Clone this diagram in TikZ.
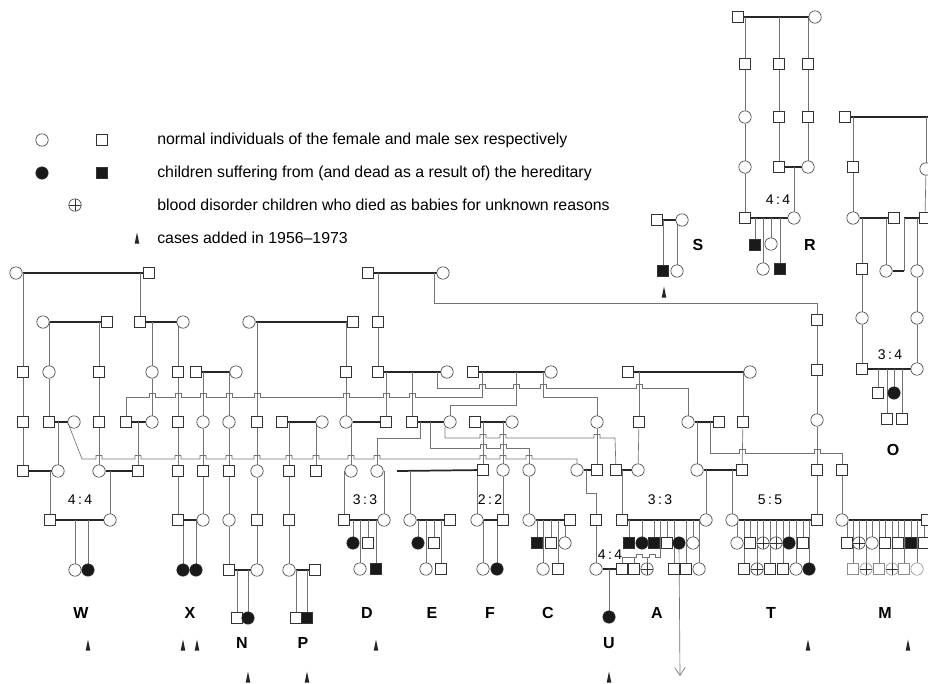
\documentclass[tikz,border=0pt]{standalone}
\usepackage{fontspec}
\setmainfont{Liberation Sans}
\usetikzlibrary{arrows.meta}
\pgfdeclarelayer{bg}
\pgfsetlayers{bg,main}
\tikzset{
 ind/.style={draw=black!80, line width=0.45pt, fill=white, inner sep=0pt},
 fe/.style={ind, circle, minimum size=9.3pt},
 ma/.style={ind, rectangle, minimum size=8.4pt},
 fea/.style={fe, fill=black!90},
 maa/.style={ma, fill=black!90},
 fex/.style={fe, path picture={\draw[black!80,line width=0.4pt] (path picture bounding box.north) -- (path picture bounding box.south) (path picture bounding box.west) -- (path picture bounding box.east);}},
 dl/.style={draw=black!55, line width=0.5pt},
 cpl/.style={draw=black!85, line width=1.3pt},
 lbl/.style={font=\bfseries\fontsize{12}{14}\selectfont, inner sep=0pt},
 rat/.style={font=\fontsize{10.5}{12}\selectfont, inner sep=0pt},
 leg/.style={font=\fontsize{11.9}{14}\selectfont, anchor=west, inner sep=0pt},
}
\newcommand\pF[2]{\node[fe] (n#1y#2) at (#1,#2) {};}
\newcommand\pM[2]{\node[ma] (n#1y#2) at (#1,#2) {};}
\newcommand\pFA[2]{\node[fea] (n#1y#2) at (#1,#2) {};}
\newcommand\pMA[2]{\node[maa] (n#1y#2) at (#1,#2) {};}
\newcommand\pFX[2]{\node[fex] (n#1y#2) at (#1,#2) {};}
\newcommand\tick[2]{\fill[black!85] (#1,#2-5.5) -- (#1+2.3,#2+5.5) -- (#1-2.3,#2+5.5) -- cycle;}
\begin{document}
\begin{tikzpicture}[x=0.75pt,y=-0.75pt]
\useasboundingbox (0,0) rectangle (928,683);
% ---------- legend
\pF{42}{140} \pM{102}{140} \pFA{42}{173} \pMA{102}{173} \pFX{75}{205}
\tick{137}{238}
\node[leg] (l1) at (157,140) {normal individuals of the female and male sex respectively};
\node[leg] (l2) at (157,173) {children suffering from (and dead as a result of) the hereditary};
\node[leg] (l3) at (157,205) {blood disorder children who died as babies for unknown reasons};
\node[leg] (l4) at (157,238) {cases added in 1956--1973};
% ---------- R, S, O
\pM{738}{17} \pF{815}{17}
\pM{745}{64} \pM{779}{64} \pM{808}{64}
\pF{745}{117} \pM{779}{117} \pM{808}{117} \pM{845}{117}
\pF{745}{167} \pM{779}{167} \pF{808}{167} \pM{853}{167} \pF{926}{169}
\pM{745}{218} \pF{794}{218} \pF{853}{218} \pM{894}{218} \pM{925}{218}
\pM{657}{220} \pF{682}{220}
\pMA{755}{245} \pF{771}{244} \pF{763}{269} \pMA{780}{269}
\pMA{663}{271} \pF{677}{271}
\pM{862}{269} \pF{886}{271} \pF{917}{271}
\pF{862}{318} \pF{917}{318}
\pM{862}{369} \pF{917}{369}
\pM{878}{393} \pFA{894}{393} \pM{887}{419} \pM{902}{419}
% ---------- main rows
\pF{16}{273} \pM{149}{273} \pM{368}{273} \pF{443}{273}
\pF{43}{322} \pM{107}{322} \pM{140}{322} \pF{183}{322} \pF{249}{322} \pM{353}{322} \pM{378}{322} \pM{817}{320}
\pM{23}{372} \pF{49}{372} \pM{99}{372} \pF{152}{372} \pM{178}{372} \pM{196}{372} \pF{236}{372}
\pM{346}{372} \pM{378}{372} \pF{447}{372} \pM{473}{372} \pF{551}{372} \pM{628}{372} \pF{750}{372} \pM{817}{370}
\pM{23}{422} \pM{49}{422} \pF{74}{422} \pM{99}{422} \pM{126}{422} \pF{152}{422} \pM{178}{422} \pF{203}{422} \pF{229}{422}
\pM{257}{422} \pM{282}{422} \pF{322}{422} \pF{346}{422} \pM{386}{422} \pM{412}{422} \pF{450}{422} \pM{475}{422} \pF{512}{422}
\pF{597}{422} \pM{639}{422} \pF{688}{422} \pM{719}{422} \pM{743}{422} \pF{817}{420}
\pM{23}{471} \pF{58}{471} \pF{99}{471} \pM{138}{471} \pM{178}{471} \pM{203}{471} \pM{229}{471} \pF{257}{471} \pM{289}{471} \pM{316}{471} \pF{351}{471} \pF{377}{471}
\pM{483}{470} \pF{503}{470} \pF{529}{470} \pF{577}{470} \pM{597}{470} \pM{616}{470} \pF{638}{470} \pF{697}{470} \pM{742}{470} \pM{817}{470} \pM{842}{470}
\pM{50}{520} \pF{110}{520} \pM{178}{520} \pF{203}{520} \pF{229}{520} \pM{257}{520} \pM{289}{520} \pM{344}{520} \pF{384}{520}
\pF{410}{520} \pM{450}{520} \pF{477}{520} \pM{503}{520} \pF{529}{520} \pM{570}{520} \pM{596}{520} \pM{622}{520} \pF{706}{520}
\pF{732}{520} \pM{817}{520} \pF{842}{520} \pM{927}{520}
% children row 1
\pFA{353}{543} \pM{368}{543} \pFA{418}{543} \pM{434}{543}
\pMA{537}{543} \pM{551}{543} \pF{565}{543}
\pMA{629}{543} \pFA{642}{543} \pMA{654}{543} \pM{667}{543} \pFA{679}{543} \pF{693}{543}
\pF{737}{543} \pM{750}{543} \pFX{763}{543} \pFX{776}{543} \pFA{789}{543} \pM{803}{543}
\pM{847}{543} \pFX{859}{543} \pF{872}{543} \pM{885}{543} \pM{898}{543} \pMA{911}{543} \pM{924}{543}
% children row 2
\pF{360}{569} \pMA{376}{569} \pF{426}{569} \pM{441}{569} \pF{483}{569} \pFA{497}{569} \pF{543}{569} \pM{558}{569}
\pF{596}{569} \pM{622}{569} \pM{634}{569} \pFX{647}{569} \pM{674}{569} \pM{686}{569} \pF{699}{569}
\pM{744}{569} \pFX{757}{569} \pM{770}{569} \pM{783}{569} \pF{796}{569} \pFA{809}{569}
\begin{scope}[ind/.append style={draw=black!45}]
\pM{853}{569} \pFX{866}{569} \pM{879}{569} \pFX{892}{569} \pM{904}{569} \pF{917}{569}
\end{scope}
\pF{75}{570} \pFA{88}{570} \pFA{183}{570} \pFA{196}{570} \pM{229}{570} \pF{257}{570} \pF{289}{570} \pM{315}{570}
\pFA{609}{617} \pM{237}{618} \pFA{248}{618} \pM{296}{618} \pMA{307}{618}
\coordinate (ne0) at (397,471);
\coordinate (aend) at (680,676);
% ---------- labels
\node[rat] (r1) at (80,500) {4\,:\,4};
\node[rat] (r2) at (365,500) {3\,:\,3};
\node[rat] (r3) at (490,500) {2\,:\,2};
\node[rat] (r4) at (660,500) {3\,:\,3};
\node[rat] (r5) at (770,500) {5\,:\,5};
\node[rat] (r6) at (610,555) {4\,:\,4};
\node[rat] (r7) at (778,200) {4\,:\,4};
\node[rat] (r8) at (890,355) {3\,:\,4};
\foreach \t/\x/\y in {W/81/613, X/190/613, N/242/643, P/303/643, D/367/613, E/432/613, F/490/613, C/548/613, U/609/643, A/657/613, T/771/613, M/885/613, O/893/450, S/698/245, R/810/245}
  \node[lbl] (lab\t) at (\x,\y) {\t};
\tick{88}{645} \tick{183}{645} \tick{197}{645} \tick{248}{677} \tick{307}{677} \tick{376}{645}
\tick{609}{677} \tick{808}{645} \tick{908}{645} \tick{664}{292}
% ---------- connectors
\begin{pgfonlayer}{bg}
% couples
\foreach \a/\b in {16y273/149y273, 43y322/107y322, 140y322/183y322, 249y322/353y322, 368y273/443y273,
  378y372/447y372, 473y372/551y372, 628y372/750y372, 196y372/236y372,
  49y422/74y422, 126y422/152y422, 282y422/322y422, 346y422/386y422, 412y422/450y422, 475y422/512y422, 688y422/719y422,
  23y471/58y471, 99y471/138y471, 577y470/597y470, 616y470/638y470, 697y470/742y470,
  50y520/110y520, 178y520/203y520, 344y520/384y520, 410y520/450y520, 477y520/503y520, 529y520/570y520,
  622y520/706y520, 732y520/817y520, 842y520/927y520,
  229y570/257y570, 289y570/315y570, 596y569/622y569,
  738y17/815y17, 779y167/808y167, 745y218/794y218, 657y220/682y220, 853y218/894y218, 862y369/917y369, e0/483y470}
  \draw[cpl] (n\a) -- (n\b);
\draw[cpl] (n845y117) -- (928,117);
\draw[cpl] (904,218) -- (n925y218);
\draw[cpl] (n886y271) -- (904,271);
% vertical chains
\foreach \a/\b in {23y372/23y422, 23y422/23y471, 49y372/49y422, 99y372/99y422, 99y422/99y471, 152y372/152y422,
  178y372/178y422, 178y422/178y471, 178y471/178y520, 203y422/203y471, 203y471/203y520,
  229y422/229y471, 229y471/229y520, 229y520/229y570, 257y422/257y471, 257y471/257y520, 257y520/257y570,
  346y372/346y422, 289y471/289y520, 289y520/289y570, 378y322/378y372, 503y520/503y470, 529y520/529y470,
  597y422/597y470, 596y520/596y569, 639y422/638y470, 743y422/742y470, 842y470/842y520,
  817y320/817y370, 817y370/817y420, 817y420/817y470, 817y470/817y520,
  745y64/745y117, 745y117/745y167, 745y167/745y218, 779y64/779y117, 779y117/779y167,
  808y64/808y117, 808y117/808y167, 853y167/853y218, 926y169/925y218,
  862y269/862y318, 862y318/862y369, 917y271/917y318, 917y318/917y369}
  \draw[dl] (n\a) -- (n\b);
% drops to a couple line
\foreach \c/\p in {23y372/16y273, 140y322/149y273, 49y372/43y322, 99y372/43y322, 152y372/140y322, 178y372/140y322,
  58y471/49y422, 138y471/126y422, 50y520/23y471, 110y520/99y471, 75y570/50y520, 88y570/50y520,
  183y570/178y520, 196y570/178y520, 203y422/196y372, 229y422/196y372, 257y422/249y322,
  237y618/229y570, 248y618/229y570, 346y372/353y322, 289y471/282y422, 316y471/322y422,
  296y618/289y570, 307y618/289y570, 378y322/368y273, 386y422/378y372, 412y422/378y372, 351y471/346y422,
  410y520/e0, 483y470/475y422, 503y470/475y422, 477y520/483y470,
  609y617/596y569, 639y422/628y372, 743y422/750y372, 622y520/616y470, 706y520/697y470, 732y520/697y470,
  745y64/738y17, 779y64/738y17, 808y64/815y17, 794y218/779y167, 663y271/657y220, 677y271/657y220,
  853y167/845y117, 862y269/853y218, 886y271/894y218, 917y271/925y218,
  353y543/344y520, 368y543/344y520, 360y569/344y520, 376y569/344y520,
  418y543/410y520, 434y543/410y520, 426y569/410y520, 441y569/410y520,
  483y569/477y520, 497y569/477y520,
  537y543/529y520, 551y543/529y520, 565y543/529y520, 543y569/529y520, 558y569/529y520,
  629y543/622y520, 642y543/622y520, 654y543/622y520, 667y543/622y520, 693y543/622y520,
  674y569/622y520, 686y569/622y520, 699y569/622y520,
  737y543/732y520, 750y543/732y520, 763y543/732y520, 776y543/732y520, 789y543/732y520, 803y543/732y520,
  744y569/732y520, 757y569/732y520, 770y569/732y520, 783y569/732y520, 796y569/732y520, 809y569/732y520,
  847y543/842y520, 859y543/842y520, 872y543/842y520, 885y543/842y520, 898y543/842y520, 911y543/842y520, 924y543/842y520,
  853y569/842y520, 866y569/842y520, 879y569/842y520, 892y569/842y520, 904y569/842y520, 917y569/842y520,
  755y245/745y218, 771y244/745y218, 763y269/745y218, 780y269/745y218,
  878y393/862y369, 894y393/862y369, 887y419/862y369, 902y419/862y369}
  \draw[dl] (n\c) -- (n\c |- n\p);
\draw[dl] (n634y569) -- (634,557);
\draw[dl] (n647y569) -- (647,557);
\draw[dl] (n622y569) -- (622,557) -- (636,557) -- (636,554) -- (642,554) -- (642,557) -- (649,557) -- (649,554) -- (655,554) -- (655,557) -- (660,557) -- (660,520);
\draw[dl] (n926y169) -- (926,117);
\draw[dl] (904,218) -- (904,271);
\draw[dl] (n697y470) -- (697,422);
% routed lines
\draw[dl] (n377y471) |- (420,438) -- (420,422);
\draw[dl] (n344y520) |- (n351y471);
\draw[dl] (n384y520) |- (n377y471);
\draw[dl] (n74y422.south west) -- (82,459) \foreach \h in {99,138,178,203,229,257,289,316,351,377,483,503,529} { -- (\h-3,459) -- (\h-3,455.5) -- (\h+3,455.5) -- (\h+3,459) } -- (577,459) -- (n577y470);
\draw[dl] (n126y422) -- (126,397) \foreach \h in {152,178,203,229,257,346,386,412} { -- (\h-3,397) -- (\h-3,393.5) -- (\h+3,393.5) -- (\h+3,397) } -- (482,397) -- (482,372);
\draw[dl] (430,422) -- (430,448) \foreach \h in {483,503} { -- (\h-3,448) -- (\h-3,444.5) -- (\h+3,444.5) -- (\h+3,448) } -- (529,448) -- (n529y470);
\draw[dl] (445,427) -- (445,438) \foreach \h in {483,503,597} { -- (\h-3,438) -- (\h-3,434.5) -- (\h+3,434.5) -- (\h+3,438) } -- (615,438) -- (n616y470);
\draw[dl] (437,372) -- (437,388) \foreach \h in {482,516,543,639} { -- (\h-3,388) -- (\h-3,384.5) -- (\h+3,384.5) -- (\h+3,388) } -- (688,388) -- (n688y422);
\draw[dl] (516,372) -- (516,405) -- (450,405) -- (n450y422);
\draw[dl] (543,372) -- (543,397) -- (597,397) -- (n597y422);
\draw[dl] (586,470) -- (586,493) -- (596,493) -- (n596y520);
\draw[dl] (710,422) -- (710,453) \foreach \h in {742,817} { -- (\h-3,453) -- (\h-3,449.5) -- (\h+3,449.5) -- (\h+3,453) } -- (842,453) -- (n842y470);
\draw[dl] (434,273) -- (434,303) -- (817,303) -- (n817y320);
\draw[dl, -{Straight Barb[length=6pt,width=8pt]}] (n679y543) -- (aend);
\end{pgfonlayer}
\end{tikzpicture}
\end{document}
